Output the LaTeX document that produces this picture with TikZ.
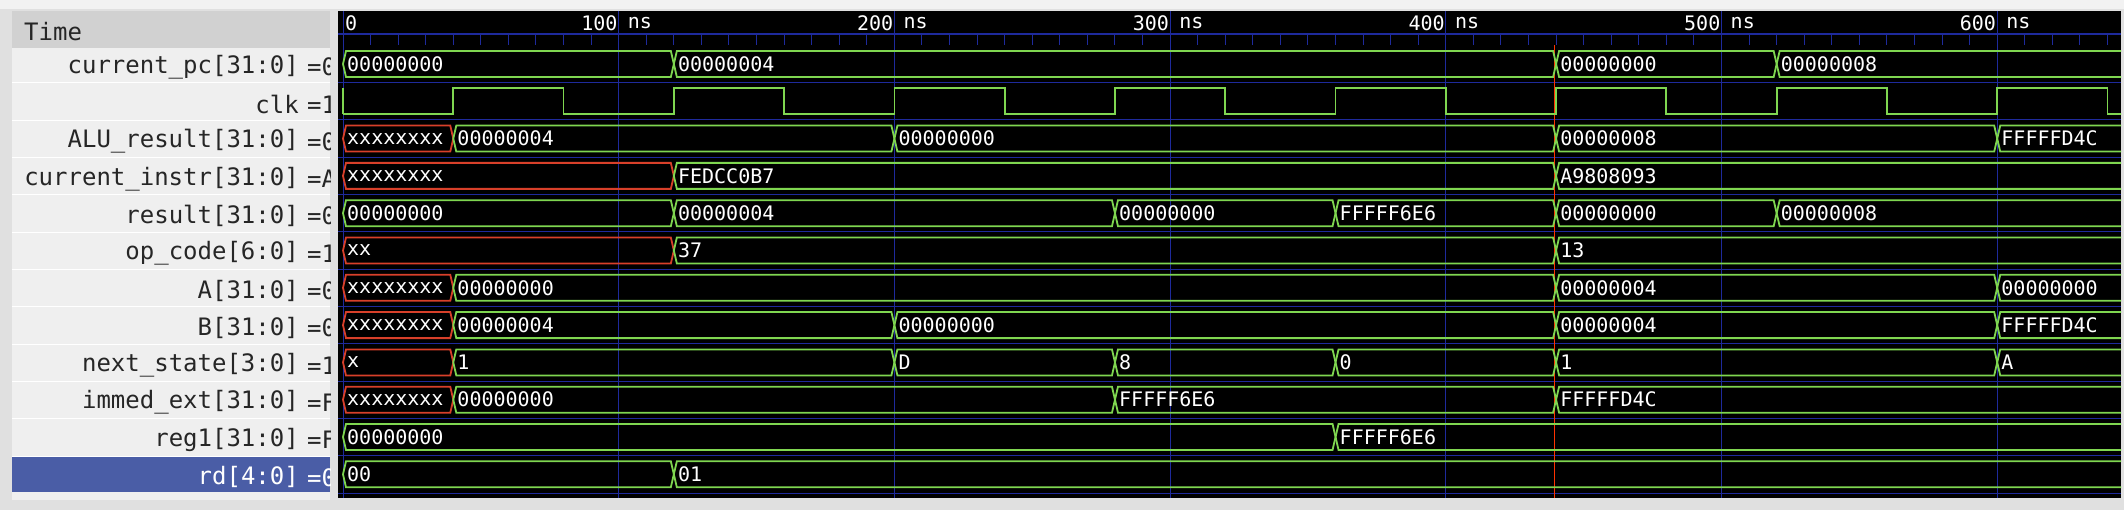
\documentclass[tikz,border=0pt]{standalone}
\usepackage{fontspec}
\newfontfamily\wavefont{DejaVu Sans Mono}
\definecolor{wgreen}{HTML}{7FD650}
\definecolor{wred}{HTML}{D8402A}
\definecolor{wblue}{HTML}{1E2A9C}
\definecolor{selblue}{HTML}{4A5DA6}
\definecolor{panel}{HTML}{EFEFEF}
\tikzset{
  val/.style={text=white,font=\wavefont\fontsize{20}{20}\selectfont,inner sep=0pt,anchor=west},
  lbl/.style={text=black!85,font=\wavefont\fontsize{24}{24}\selectfont,inner sep=0pt},
  ok/.style={draw=wgreen,line width=1.8pt},
  bad/.style={draw=wred,line width=1.8pt},
}
% row r, from t0 to t1 (ns), value, style
\newcommand\seg[5]{%
  \pgfmathsetmacro\ym{64+37.3*#1}%
  \pgfmathsetmacro\xa{343+2.757*#2}%
  \pgfmathsetmacro\xb{343+2.757*#3}%
  \draw[#5] (\xa,\ym) -- (\xa+3,\ym-13) -- (\xb-3,\ym-13) -- (\xb,\ym)
    -- (\xb-3,\ym+13) -- (\xa+3,\ym+13) -- cycle;
  \node[val] at (\xa+4,\ym) {#4};}
\begin{document}
\begin{tikzpicture}[x=1pt,y=-1pt]
  \useasboundingbox (0,0) rectangle (2124,510);
  \fill[black!12] (0,0) rectangle (2124,510);
  \fill[black!5] (0,0) rectangle (2124,9);
  % signal names
  \fill[panel] (12,11) rectangle (330,500);
  \fill[black!18] (12,11) rectangle (330,48);
  \node[lbl,anchor=west] at (24,32) {Time};
  \fill[selblue] (12,456) rectangle (330,492);
  \begin{scope}
    \clip (12,11) rectangle (330,500);
    \foreach \name/\v [count=\i from 0] in {current\_pc[31:0]/00,clk/1,
        ALU\_result[31:0]/00,current\_instr[31:0]/A9,result[31:0]/00,
        op\_code[6:0]/13,A[31:0]/00,B[31:0]/00,next\_state[3:0]/1,
        immed\_ext[31:0]/FF,reg1[31:0]/FF,rd[4:0]/01} {
      \pgfmathsetmacro\yl{67+37.3*\i}
      \ifnum\i<11 \draw[white,line width=1pt] (12,\yl+16) -- (330,\yl+16); \fi
      \ifnum\i=11 \def\tc{white}\else\def\tc{black!85}\fi
      \node[lbl,text=\tc,anchor=east] at (299,\yl) {\name};
      \node[lbl,text=\tc,anchor=west] at (307,\yl) {=\v};
    }
  \end{scope}
  % waveform area
  \fill[black] (338,11) rectangle (2121,498);
  \begin{scope}
    \clip (338,11) rectangle (2121,498);
    \foreach \i in {0,...,11}
      \draw[wblue,line width=0.8pt] (338,{82.6+37.3*\i}) -- (2121,{82.6+37.3*\i});
    \foreach \t in {0,100,...,600}
      \draw[wblue,line width=1pt] ({343+2.757*\t},11) -- ({343+2.757*\t},498);
    \draw[wblue,line width=1.2pt] (338,34) -- (2121,34);
    \foreach \t in {0,10,...,640}
      \draw[wblue,line width=1pt] ({343+2.757*\t},34) -- ({343+2.757*\t},45);
    \node[val] at (345,23) {0};
    \foreach \t in {100,200,...,600} {
      \node[val,anchor=east] at ({342+2.757*\t},23) {\t};
      \node[val] at ({352+2.757*\t},23) {ns};
    }
    \draw[red!60!orange,line width=1pt] ({343+2.757*439.5},45) -- ({343+2.757*439.5},498);
    % current_pc
    \seg{0}{0}{120}{00000000}{ok} \seg{0}{120}{440}{00000004}{ok}
    \seg{0}{440}{520}{00000000}{ok} \seg{0}{520}{660}{00000008}{ok}
    % clk
    \draw[ok] (343,114)
      \foreach \t in {40,120,...,600} { -- ({343+2.757*\t},114) -- ({343+2.757*\t},88)
        -- ({343+2.757*(\t+40)},88) -- ({343+2.757*(\t+40)},114) } -- (2125,114);
    \draw[ok] (343,88) -- (343,114);
    % ALU_result
    \seg{2}{0}{40}{xxxxxxxx}{bad} \seg{2}{40}{200}{00000004}{ok}
    \seg{2}{200}{440}{00000000}{ok} \seg{2}{440}{600}{00000008}{ok}
    \seg{2}{600}{660}{FFFFFD4C}{ok}
    % current_instr
    \seg{3}{0}{120}{xxxxxxxx}{bad} \seg{3}{120}{440}{FEDCC0B7}{ok}
    \seg{3}{440}{660}{A9808093}{ok}
    % result
    \seg{4}{0}{120}{00000000}{ok} \seg{4}{120}{280}{00000004}{ok}
    \seg{4}{280}{360}{00000000}{ok} \seg{4}{360}{440}{FFFFF6E6}{ok}
    \seg{4}{440}{520}{00000000}{ok} \seg{4}{520}{660}{00000008}{ok}
    % op_code
    \seg{5}{0}{120}{xx}{bad} \seg{5}{120}{440}{37}{ok} \seg{5}{440}{660}{13}{ok}
    % A
    \seg{6}{0}{40}{xxxxxxxx}{bad} \seg{6}{40}{440}{00000000}{ok}
    \seg{6}{440}{600}{00000004}{ok} \seg{6}{600}{660}{00000000}{ok}
    % B
    \seg{7}{0}{40}{xxxxxxxx}{bad} \seg{7}{40}{200}{00000004}{ok}
    \seg{7}{200}{440}{00000000}{ok} \seg{7}{440}{600}{00000004}{ok}
    \seg{7}{600}{660}{FFFFFD4C}{ok}
    % next_state
    \seg{8}{0}{40}{x}{bad} \seg{8}{40}{200}{1}{ok} \seg{8}{200}{280}{D}{ok}
    \seg{8}{280}{360}{8}{ok} \seg{8}{360}{440}{0}{ok} \seg{8}{440}{600}{1}{ok}
    \seg{8}{600}{660}{A}{ok}
    % immed_ext
    \seg{9}{0}{40}{xxxxxxxx}{bad} \seg{9}{40}{280}{00000000}{ok}
    \seg{9}{280}{440}{FFFFF6E6}{ok} \seg{9}{440}{660}{FFFFFD4C}{ok}
    % reg1
    \seg{10}{0}{360}{00000000}{ok} \seg{10}{360}{660}{FFFFF6E6}{ok}
    % rd
    \seg{11}{0}{120}{00}{ok} \seg{11}{120}{660}{01}{ok}
  \end{scope}
\end{tikzpicture}
\end{document}
